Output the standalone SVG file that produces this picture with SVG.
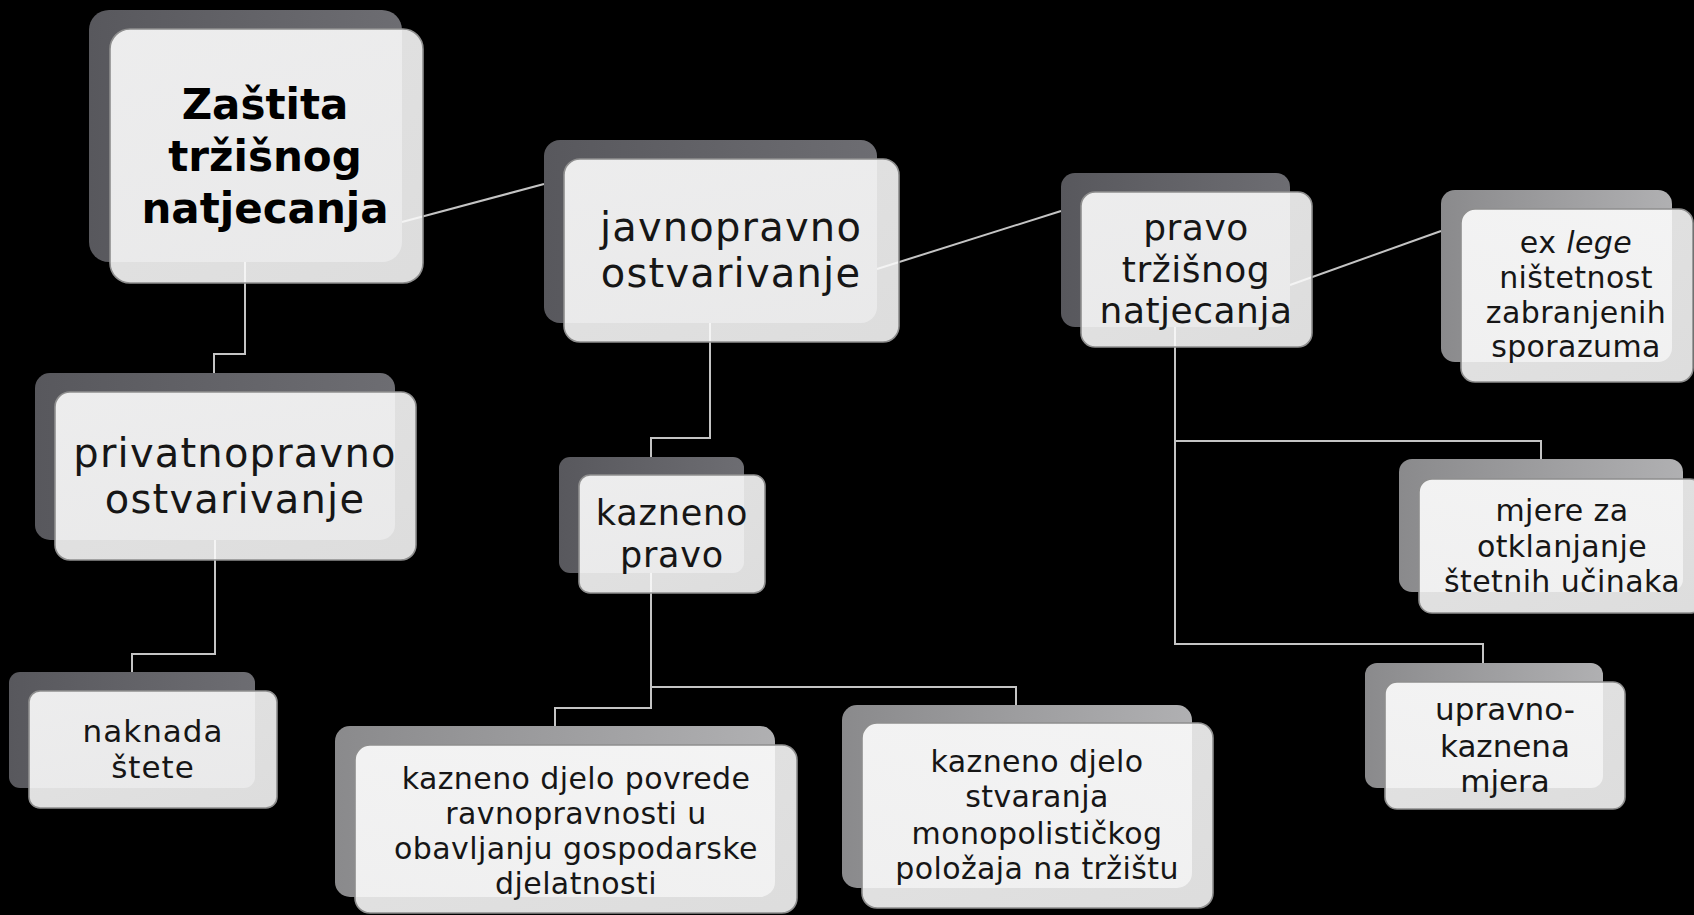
<svg xmlns="http://www.w3.org/2000/svg" width="1694" height="915" viewBox="0 0 1694 915">
  <defs>
    <linearGradient id="gd" x1="0" y1="0" x2="1" y2="0">
      <stop offset="0" stop-color="#58585d"/>
      <stop offset="1" stop-color="#6d6d72"/>
    </linearGradient>
    <linearGradient id="gl" x1="0" y1="0" x2="1" y2="0">
      <stop offset="0" stop-color="#8a8a8c"/>
      <stop offset="1" stop-color="#b0b0b2"/>
    </linearGradient>
    <linearGradient id="gf" x1="0" y1="0" x2="1" y2="1">
      <stop offset="0" stop-color="#ffffff"/>
      <stop offset="1" stop-color="#f8f8f8"/>
    </linearGradient>
    <style>
      .bd { fill: url(#gd); }
      .bl { fill: url(#gl); }
      .fr { fill: url(#gf); fill-opacity: 0.89; stroke: #8e8e8e; stroke-width: 1.6; }
      .conn { stroke: #c4c4c4; stroke-width: 2; fill: none; }
      text { font-family: "DejaVu Sans", "Liberation Sans", sans-serif; fill: #161616; text-anchor: middle; }
      .t40 { font-size: 40px; letter-spacing: 1.2px; }
      .t36 { font-size: 36px; letter-spacing: 0.5px; }
      .t35 { font-size: 35px; letter-spacing: 0.8px; }
      .t31 { font-size: 31px; }
      .t30 { font-size: 30px; letter-spacing: 0.4px; }
      .tb { font-size: 42px; font-weight: bold; fill: #000; }
    </style>
  </defs>
  <rect width="1694" height="915" fill="#000"/>

  <g id="connectors">
    <line class="conn" x1="402" y1="222" x2="544" y2="184"/>
    <line class="conn" x1="877" y1="269" x2="1061" y2="211"/>
    <line class="conn" x1="1290" y1="285" x2="1441" y2="231"/>
    <polyline class="conn" points="245,262 245,354 214,354 214,373"/>
    <polyline class="conn" points="215,540 215,654 132,654 132,672"/>
    <polyline class="conn" points="710,323 710,438 651,438 651,457"/>
    <polyline class="conn" points="651,573 651,708 555,708 555,726"/>
    <polyline class="conn" points="651,687 1016,687 1016,705"/>
    <polyline class="conn" points="1175,327 1175,441 1541,441 1541,459"/>
    <polyline class="conn" points="1175,441 1175,644 1483,644 1483,663"/>
  </g>

  <g id="node-zastita">
    <rect class="bd" x="89" y="10" width="313" height="252" rx="20"/>
    <rect class="fr" x="110" y="29" width="313" height="254" rx="20"/>
    <text class="tb" x="265" y="119">Zaštita</text>
    <text class="tb" x="265" y="171">tržišnog</text>
    <text class="tb" x="265" y="223">natjecanja</text>
  </g>

  <g id="node-javnopravno">
    <rect class="bd" x="544" y="140" width="333" height="183" rx="16"/>
    <rect class="fr" x="564" y="159" width="335" height="183" rx="16"/>
    <text class="t40" x="731" y="241">javnopravno</text>
    <text class="t40" x="731" y="287">ostvarivanje</text>
  </g>

  <g id="node-pravo-trzisnog">
    <rect class="bd" x="1061" y="173" width="229" height="154" rx="14"/>
    <rect class="fr" x="1081" y="192" width="231" height="155" rx="14"/>
    <text class="t36" x="1196" y="240">pravo</text>
    <text class="t36" x="1196" y="282">tržišnog</text>
    <text class="t36" x="1196" y="323">natjecanja</text>
  </g>

  <g id="node-ex-lege">
    <rect class="bl" x="1441" y="190" width="231" height="172" rx="14"/>
    <rect class="fr" x="1461" y="209" width="232" height="173" rx="14"/>
    <text class="t30" x="1576" y="253">ex <tspan font-style="italic">lege</tspan></text>
    <text class="t30" x="1576" y="288">ništetnost</text>
    <text class="t30" x="1576" y="323">zabranjenih</text>
    <text class="t30" x="1576" y="357">sporazuma</text>
  </g>

  <g id="node-privatnopravno">
    <rect class="bd" x="35" y="373" width="360" height="167" rx="15"/>
    <rect class="fr" x="55" y="392" width="361" height="168" rx="15"/>
    <text class="t40" x="235" y="467">privatnopravno</text>
    <text class="t40" x="235" y="513">ostvarivanje</text>
  </g>

  <g id="node-naknada">
    <rect class="bd" x="9" y="672" width="246" height="116" rx="11"/>
    <rect class="fr" x="29" y="691" width="248" height="117" rx="11"/>
    <text class="t31" x="153" y="742" letter-spacing="1">naknada</text>
    <text class="t31" x="153" y="778" letter-spacing="1">štete</text>
  </g>

  <g id="node-kazneno-pravo">
    <rect class="bd" x="559" y="457" width="185" height="116" rx="11"/>
    <rect class="fr" x="579" y="475" width="186" height="118" rx="11"/>
    <text class="t35" x="672" y="525">kazneno</text>
    <text class="t35" x="672" y="567">pravo</text>
  </g>

  <g id="node-povrede">
    <rect class="bl" x="335" y="726" width="440" height="171" rx="15"/>
    <rect class="fr" x="355" y="745" width="442" height="168" rx="15"/>
    <text class="t30" x="576" y="789">kazneno djelo povrede</text>
    <text class="t30" x="576" y="824">ravnopravnosti u</text>
    <text class="t30" x="576" y="859">obavljanju gospodarske</text>
    <text class="t30" x="576" y="894">djelatnosti</text>
  </g>

  <g id="node-monopolistickog">
    <rect class="bl" x="842" y="705" width="350" height="183" rx="15"/>
    <rect class="fr" x="862" y="723" width="351" height="185" rx="15"/>
    <text class="t30" x="1037" y="772">kazneno djelo</text>
    <text class="t30" x="1037" y="807">stvaranja</text>
    <text class="t30" x="1037" y="844">monopolističkog</text>
    <text class="t30" x="1037" y="879">položaja na tržištu</text>
  </g>

  <g id="node-mjere">
    <rect class="bl" x="1399" y="459" width="284" height="133" rx="13"/>
    <rect class="fr" x="1419" y="479" width="284" height="134" rx="13"/>
    <text class="t30" x="1562" y="521">mjere za</text>
    <text class="t30" x="1562" y="557">otklanjanje</text>
    <text class="t30" x="1562" y="592">štetnih učinaka</text>
  </g>

  <g id="node-upravno">
    <rect class="bl" x="1365" y="663" width="238" height="125" rx="12"/>
    <rect class="fr" x="1385" y="682" width="240" height="127" rx="12"/>
    <text class="t31" x="1505" y="720">upravno-</text>
    <text class="t31" x="1505" y="757">kaznena</text>
    <text class="t31" x="1505" y="792">mjera</text>
  </g>
</svg>
